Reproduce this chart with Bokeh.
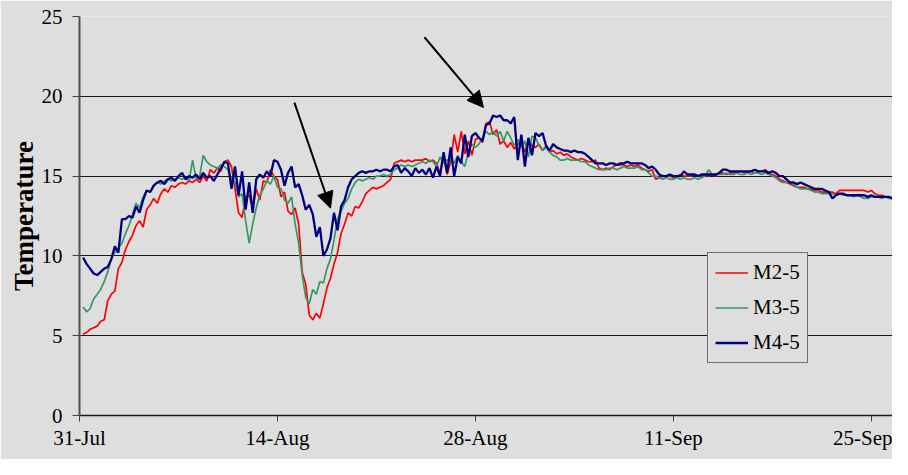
import pandas as pd
from bokeh.plotting import figure
from bokeh.models import (Range1d, FixedTicker, DatetimeTickFormatter, Legend,
                          LegendItem, Arrow, NormalHead)
from bokeh.embed import file_html
from bokeh.resources import INLINE

# ---------------- data ----------------
series_start = "2005-07-31 06:00"   # first reading
series_step = "6h"                  # reading interval
series_names = ["M2-5", "M3-5", "M4-5"]
series_colors = ["#ff0000", "#339966", "#000080"]

m2_5 = [
    5.1, 5.2, 5.4, 5.5,   5.6, 5.9, 6.0, 7.2,   7.6, 7.8, 9.2, 9.6,   10.4, 10.9, 11.3, 11.9,
    12.2, 11.8, 12.9, 13.2,   13.6, 13.3, 13.9, 14.2,   14.0, 14.4, 14.3, 14.5,   14.6, 14.5, 14.7, 14.6,
    14.8, 14.6, 15.0, 14.7,   15.4, 15.2, 15.5, 15.3,   15.9, 16.0, 15.6, 14.2,   12.7, 12.4, 13.7, 13.8,
    13.0, 14.2, 13.5, 14.7,   14.6, 15.4, 15.0, 14.8,   13.7, 14.0, 12.8, 12.6,   13.0, 12.0, 9.0, 8.2,
    6.3, 6.0, 6.4, 6.1,   7.0, 8.0, 8.6, 9.5,   10.2, 11.4, 12.0, 12.7,   12.5, 13.1, 13.0, 13.4,
    13.9, 14.1, 14.3, 14.2,   14.3, 14.4, 14.6, 14.8,   15.8, 15.9, 16.0, 15.9,   16.0, 15.9, 16.0, 16.0,
    16.0, 16.1, 15.9, 16.0,   15.8, 15.2, 16.2, 15.1,   15.9, 17.6, 16.5, 17.8,   16.4, 17.2, 16.3, 17.3,
    17.4, 17.1, 18.3, 18.4,   17.6, 17.9, 17.0, 17.2,   16.8, 17.1, 16.7, 17.0,   17.2, 16.5, 17.3, 16.9,
    16.8, 17.0, 16.6, 16.9,   16.5, 16.6, 16.4, 16.5,   16.3, 16.4, 16.2, 16.1,   16.0, 16.1, 16.0, 15.9,
    15.9, 16.0, 15.5, 15.4,   15.5, 15.4, 15.6, 15.7,   15.7, 15.7, 15.6, 15.7,   15.6, 15.7, 15.5, 15.4,
    15.3, 15.4, 14.8, 14.9,   15.0, 15.0, 15.0, 14.9,   15.0, 15.1, 15.0, 15.0,   15.0, 15.1, 15.0, 15.0,
    15.1, 15.0, 15.1, 15.0,   15.2, 15.2, 15.1, 15.2,   15.2, 15.2, 15.3, 15.2,   15.2, 15.3, 15.2, 15.3,
    15.3, 15.4, 15.2, 15.1,   15.0, 14.8, 14.7, 14.6,   14.5, 14.4, 14.3, 14.3,   14.3, 14.2, 14.2, 14.1,
    14.1, 14.0, 14.0, 14.0,   14.0, 13.9, 14.1, 14.1,   14.1, 14.1, 14.1, 14.1,   14.1, 14.1, 14.0, 14.1,
    13.9, 13.8, 13.8, 13.7,   13.7, 13.6, 13.5, 13.5,   13.3, 13.5, 13.4, 13.4,
]

m3_5 = [
    6.8, 6.5, 6.7, 7.3,   7.6, 7.9, 8.4, 9.0,   9.8, 10.2, 10.5, 10.8,   11.4, 11.9, 12.6, 13.3,
    13.0, 13.7, 14.1, 14.0,   14.4, 14.6, 14.5, 14.7,   14.8, 14.7, 14.8, 14.9,   14.8, 14.9, 14.7, 16.0,
    14.8, 15.0, 16.3, 15.9,   15.7, 15.6, 15.5, 15.7,   15.6, 15.4, 14.8, 14.6,   13.7, 13.9, 12.2, 10.8,
    12.0, 13.0, 13.8, 14.2,   14.7, 14.5, 15.0, 14.3,   14.2, 13.5, 13.3, 13.7,   12.0, 10.8, 8.8, 7.4,
    7.0, 7.9, 7.6, 8.4,   8.3, 9.2, 9.8, 11.0,   12.3, 12.8, 13.3, 13.6,   14.2, 14.6, 14.8, 14.7,
    14.8, 14.9, 14.8, 15.0,   15.0, 15.1, 15.0, 15.1,   15.4, 15.5, 15.7, 15.6,   15.7, 15.6, 15.7, 15.8,
    15.9, 15.8, 16.0, 15.9,   15.6, 16.2, 15.8, 16.0,   16.1, 15.8, 16.3, 15.9,   15.6, 16.5, 17.0, 16.8,
    17.0, 17.4, 17.8, 17.6,   17.8, 17.5, 17.8, 17.2,   17.8, 17.4, 16.9, 17.3,   16.8, 17.2, 16.2, 17.5,
    17.4, 16.9, 16.6, 16.8,   16.5, 16.3, 16.2, 16.0,   16.0, 16.1, 16.0, 16.0,   16.0, 15.9, 15.9, 15.7,
    15.6, 15.5, 15.4, 15.4,   15.4, 15.5, 15.5, 15.4,   15.5, 15.6, 15.5, 15.5,   15.5, 15.6, 15.4, 15.4,
    15.2, 15.0, 15.0, 14.9,   14.8, 14.9, 14.8, 14.8,   14.9, 14.8, 14.9, 14.8,   14.8, 14.9, 14.8, 14.9,
    15.0, 15.4, 15.1, 15.1,   15.1, 15.1, 15.2, 15.1,   15.1, 15.2, 15.1, 15.1,   15.2, 15.1, 15.2, 15.2,
    15.1, 15.2, 15.1, 15.0,   14.9, 14.7, 14.6, 14.6,   14.6, 14.5, 14.3, 14.2,   14.2, 14.2, 14.1, 14.0,
    14.0, 13.9, 13.9, 13.9,   13.9, 13.8, 13.9, 13.8,   13.8, 13.8, 13.7, 13.8,   13.7, 13.6, 13.6, 13.7,
    13.7, 13.7, 13.6, 13.7,   13.6, 13.6, 13.5, 13.5,   13.5, 13.5, 13.6, 13.5,
]

m4_5 = [
    9.9, 9.5, 9.2, 8.9,   8.8, 9.0, 9.2, 9.3,   9.8, 10.6, 10.2, 12.3,   12.3, 12.5, 12.4, 13.1,
    12.7, 13.5, 14.1, 14.0,   14.4, 14.6, 14.7, 14.5,   14.8, 14.9, 14.7, 15.0,   15.2, 14.8, 15.0, 14.9,
    15.1, 14.8, 15.2, 14.9,   15.0, 14.7, 15.1, 15.5,   15.9, 15.8, 14.2, 15.6,   13.8, 15.3, 12.9, 14.6,
    12.7, 14.8, 15.1, 14.9,   15.3, 15.0, 16.0, 15.9,   15.4, 14.4, 15.2, 15.6,   14.3, 14.5, 13.8, 12.9,
    13.2, 12.6, 11.2, 11.8,   10.0, 10.4, 11.1, 12.7,   11.6, 13.1, 13.5, 14.3,   14.8, 15.0, 15.2, 15.3,
    15.2, 15.3, 15.3, 15.4,   15.3, 15.4, 15.4, 15.3,   15.6, 15.7, 15.2, 15.5,   15.3, 15.0, 15.5, 15.2,
    15.4, 15.1, 15.5, 14.9,   15.6, 15.0, 16.5, 15.2,   16.8, 15.0, 16.2, 15.8,   17.6, 16.2, 17.5, 17.7,
    17.4, 17.2, 18.2, 18.3,   18.8, 18.7, 18.8, 18.5,   18.5, 18.3, 18.7, 16.0,   17.6, 15.6, 17.4, 16.3,
    17.7, 17.5, 17.7, 16.9,   16.6, 17.0, 16.8, 16.7,   16.6, 16.6, 16.5, 16.6,   16.5, 16.5, 16.4, 16.2,
    16.0, 15.8, 15.8, 15.8,   15.7, 15.8, 15.8, 15.7,   15.8, 15.8, 15.9, 15.8,   15.8, 15.8, 15.8, 15.7,
    15.5, 15.6, 15.4, 15.1,   15.0, 15.0, 15.1, 15.0,   15.0, 15.0, 15.3, 15.1,   15.1, 15.1, 15.0, 15.1,
    15.1, 15.1, 15.1, 15.1,   15.2, 15.4, 15.4, 15.3,   15.3, 15.3, 15.3, 15.3,   15.3, 15.3, 15.4, 15.3,
    15.3, 15.3, 15.2, 15.3,   15.2, 15.0, 15.0, 14.8,   14.6, 14.6, 14.5, 14.6,   14.5, 14.4, 14.3, 14.2,
    14.2, 14.2, 14.1, 14.0,   13.6, 13.8, 13.9, 13.9,   13.8, 13.8, 13.8, 13.8,   13.8, 13.8, 13.7, 13.8,
    13.7, 13.7, 13.7, 13.7,   13.7, 13.6, 13.6, 13.6,   13.6, 13.6, 13.6, 13.6,
]

tick_dates = ["2005-07-31", "2005-08-14", "2005-08-28", "2005-09-11", "2005-09-25"]
x_range_dates = ["2005-07-31 00:00", "2005-09-26 12:00"]
y_ticks = [0, 5, 10, 15, 20, 25]

# annotation arrows (date, temperature)
arrow_from = [("2005-08-15 04:48", 19.6), ("2005-08-24 09:36", 23.7)]
arrow_to = [("2005-08-17 18:00", 13.0), ("2005-08-28 13:40", 19.3)]

# ---------------- chart ----------------
BG = "#dedede"
FONT = "Liberation Serif"


def ms(d):
    return pd.Timestamp(d).value / 1e6


p = figure(width=892, height=459, output_backend="svg", toolbar_location=None,
           x_axis_type="datetime",
           x_range=Range1d(ms(x_range_dates[0]), ms(x_range_dates[1])),
           y_range=Range1d(0, 25),
           min_border_left=79, min_border_right=0, min_border_top=16,
           min_border_bottom=44)
p.background_fill_color = BG
p.border_fill_color = BG
p.outline_line_color = None

p.xgrid.visible = False
p.ygrid.grid_line_color = "#1a1a1a"
p.ygrid.grid_line_width = 1

p.yaxis.ticker = FixedTicker(ticks=y_ticks)
p.xaxis.ticker = FixedTicker(ticks=[ms(d) for d in tick_dates])
fmt = "%d-%b"
p.xaxis.formatter = DatetimeTickFormatter(
    milliseconds=fmt, seconds=fmt, minsec=fmt, minutes=fmt, hourmin=fmt,
    hours=fmt, days=fmt, months=fmt, years=fmt)

for ax in (p.xaxis[0], p.yaxis[0]):
    ax.major_label_text_font = FONT
    ax.major_label_text_font_size = "21px"
    ax.major_label_text_color = "black"
    ax.minor_tick_line_color = None
    ax.major_tick_in = 0
    ax.major_tick_line_color = "#404040"

p.xaxis.major_tick_out = 6
p.xaxis.major_label_standoff = 4
p.xaxis.axis_line_color = "#1a1a1a"
p.xaxis.axis_line_width = 1.5

p.yaxis.major_tick_out = 7
p.yaxis.major_label_standoff = 10
p.yaxis.axis_line_color = "#505050"
p.yaxis.axis_line_width = 2
p.yaxis.axis_label = "Temperature"
p.yaxis.axis_label_text_font = FONT
p.yaxis.axis_label_text_font_style = "bold"
p.yaxis.axis_label_text_font_size = "27px"
p.yaxis.axis_label_text_color = "black"
p.yaxis.axis_label_standoff = 0

renderers = []
widths = [1.7, 1.7, 2.3]
for vals, col, w in zip([m2_5, m3_5, m4_5], series_colors, widths):
    xs = pd.date_range(series_start, periods=len(vals), freq=series_step)
    r = p.line(xs, vals, line_color=col, line_width=w)
    renderers.append(r)

for (x0, y0), (x1, y1) in zip(arrow_from, arrow_to):
    p.add_layout(Arrow(x_start=ms(x0), y_start=y0, x_end=ms(x1), y_end=y1,
                       line_color="black", line_width=2,
                       end=NormalHead(size=16, fill_color="black",
                                      line_color="black")))

legend = Legend(items=[LegendItem(label=n, renderers=[r])
                       for n, r in zip(series_names, renderers)],
                location=(628, 52))
legend.label_text_font = FONT
legend.label_text_font_size = "21px"
legend.label_text_color = "black"
legend.glyph_width = 33
legend.glyph_height = 25
legend.label_height = 25
legend.label_standoff = 5
legend.spacing = 10
legend.padding = 7
legend.margin = 0
legend.border_line_color = "black"
legend.border_line_width = 1
legend.background_fill_color = BG
legend.background_fill_alpha = 1
p.add_layout(legend)

open("out.html", "w").write(file_html(p, INLINE))
